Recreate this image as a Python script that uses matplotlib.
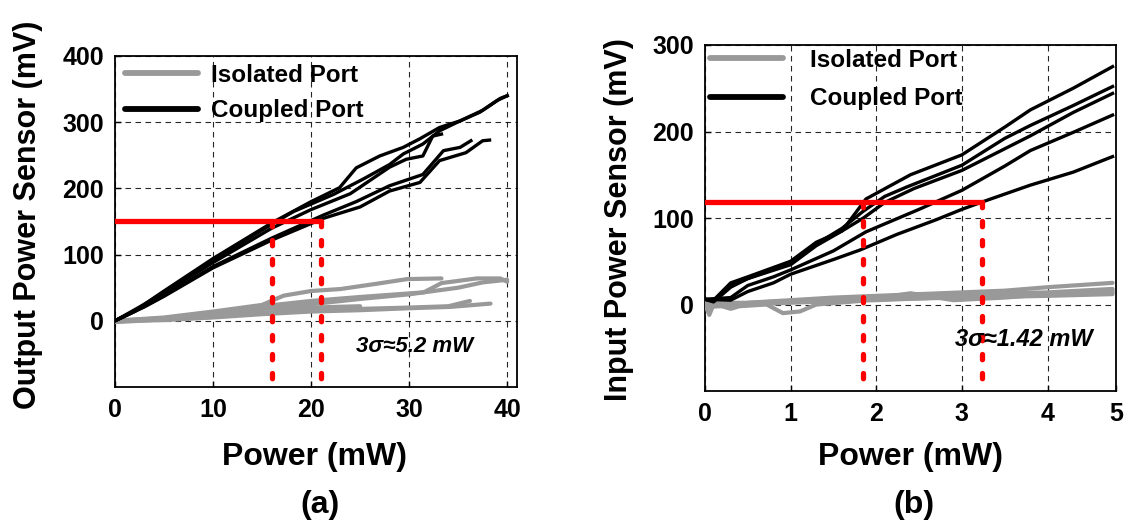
import matplotlib
matplotlib.use("Agg")
import matplotlib.pyplot as plt

plt.rcParams['font.family'] = ['Liberation Sans', 'DejaVu Sans']
plt.rcParams['font.weight'] = 'bold'

# ---------------- Panel (a) data ----------------
a_coupled = [
    ([0, 2, 5, 10, 16, 20, 22.9, 24.6, 27, 29.4, 31.1, 33.1, 35.2, 37.2, 39, 40],
     [0, 15, 45, 94, 148, 180, 201, 231, 249, 262, 275, 292, 302, 315, 333, 340]),
    ([0, 2, 5, 10, 16, 18.2, 22.3, 25.3, 28, 29.4, 31.4, 33.1, 35.2, 37.5, 39.3, 40],
     [0, 14, 44, 92, 146, 165, 191, 214, 236, 252, 267, 287, 302, 318, 336, 340]),
    ([0, 3, 5, 10, 16, 20, 24, 28, 29.7, 31.4, 32.4, 33.3],
     [0, 25, 42, 88, 140, 168, 192, 232, 244, 249, 279, 282]),
    ([0, 3, 5, 10, 16, 21.3, 24.6, 28, 31.4, 33.5, 35.2, 36.3],
     [0, 22, 38, 82, 125, 160, 180, 204, 221, 257, 262, 272]),
    ([0, 3, 5, 10, 16, 21.3, 25, 28, 31.1, 33.1, 35.8, 37.5, 38.2],
     [0, 21, 37, 80, 122, 155, 172, 196, 209, 242, 254, 272, 273]),
]
a_isolated = [
    ([0, 5, 10, 15, 17.2, 20, 23, 26.7, 29.8, 33.3],
     [0, 5, 14, 24, 38, 45, 48, 56, 63, 64]),
    ([0, 5, 10, 15, 20, 25, 31.5, 33.3, 36.9, 39.3, 40],
     [0, 3, 10, 22, 30, 36, 43, 57, 64, 64, 59]),
    ([0, 5, 10, 15, 20, 25, 30, 35, 37.5, 40],
     [-2, 2, 8, 18, 25, 33, 40, 50, 58, 62]),
    ([0, 5, 10, 15, 20, 25, 30, 34, 36.2],
     [0, 2, 6, 12, 16, 18, 20, 22, 30]),
    ([0, 5, 10, 15, 20, 25, 30, 34.2, 38.3],
     [0, 1, 5, 10, 14, 16, 19, 21, 26]),
    ([0, 5, 10, 15, 20, 25],
     [0, 4, 12, 18, 20, 22]),
]
a_level = 150
a_x_low, a_x_high = 16.05, 21.0
a_note = "3σ≈5.2 mW"
a_xticks = [0, 10, 20, 30, 40]
a_yticks = [0, 100, 200, 300, 400]

# ---------------- Panel (b) data ----------------
b_coupled = [
    ([0, 0.1, 0.3, 0.5, 1.0, 1.3, 1.6, 1.88, 2.4, 3.0, 3.5, 3.8, 4.3, 4.76],
     [6, 5, 25, 32, 50, 72, 85, 122, 150, 173, 205, 225, 250, 275]),
    ([0, 0.1, 0.3, 0.5, 1.0, 1.3, 1.6, 1.85, 2.1, 2.36, 3.0, 3.5, 3.8, 4.3, 4.76],
     [6, 4, 22, 30, 48, 70, 88, 108, 125, 136, 161, 192, 207, 230, 252]),
    ([0, 0.1, 0.3, 0.5, 1.0, 1.3, 1.6, 1.85, 2.1, 2.44, 3.0, 3.5, 3.8, 4.3, 4.76],
     [6, 3, 20, 30, 46, 68, 85, 100, 118, 134, 155, 180, 195, 222, 244]),
    ([0, 0.3, 0.5, 0.8, 1.0, 1.5, 1.88, 2.5, 3.0, 3.5, 3.8, 4.3, 4.76],
     [6, 8, 22, 32, 40, 62, 84, 110, 132, 160, 178, 199, 219]),
    ([0, 0.3, 0.5, 0.8, 1.0, 1.5, 1.81, 2.24, 2.7, 3.0, 3.25, 3.8, 4.3, 4.76],
     [6, 5, 15, 25, 35, 52, 63, 81, 98, 110, 119, 138, 153, 171]),
]
b_isolated = [
    ([0, 0.05, 0.1, 0.3, 0.5, 1.0, 1.5, 2.0, 2.5, 3.0, 3.5, 4.0, 4.76],
     [0, -12, 0, -3, 2, 5, 8, 10, 12, 14, 16, 20, 25]),
    ([0, 0.2, 0.3, 0.4, 0.72, 0.91, 1.11, 1.3, 1.8, 2.4, 2.9, 3.5, 4.0, 4.76],
     [0, -2, -5, -2, 0, -10, -8, 0, 4, 13, 5, 8, 12, 14]),
    ([0, 0.5, 1.0, 1.5, 2.0, 2.5, 3.0, 3.5, 4.0, 4.76],
     [-3, 0, 2, 4, 7, 9, 10, 13, 14, 18]),
    ([0, 0.5, 1.0, 2.0, 3.0, 4.0, 4.76],
     [2, 2, 4, 6, 8, 10, 12]),
    ([0, 1, 2, 3, 4, 4.76],
     [0, 3, 5, 9, 12, 16]),
]
b_level = 119
b_x_low, b_x_high = 1.84, 3.24
b_note = "3σ≈1.42 mW"
b_xticks = [0, 1, 2, 3, 4, 4.8]
b_xticklabels = ["0", "1", "2", "3", "4", "5"]
b_yticks = [0, 100, 200, 300]

GRAY = "#999999"
RED = "#ff0000"

fig = plt.figure(figsize=(11.25, 5.25), dpi=100)
ax_a = fig.add_axes([115/1125, 1-387/525, 402/1125, 331/525])
ax_b = fig.add_axes([705/1125, 1-391/525, 411/1125, 346/525])


def draw(ax, coupled, isolated, level, xlo, xhi, ylo):
    for i, (x, y) in enumerate(isolated):
        ax.plot(x, y, color=GRAY, lw=3.0, solid_capstyle='round', solid_joinstyle='round',
                label="Isolated Port" if i == 0 else None, zorder=3)
    for i, (x, y) in enumerate(coupled):
        ax.plot(x, y, color="black", lw=2.4, solid_joinstyle='round',
                label="Coupled Port" if i == 0 else None, zorder=4)
    ax.plot([0, xhi], [level, level], color=RED, lw=3.8, solid_capstyle='round', zorder=5)
    for xv in (xlo, xhi):
        ax.plot([xv, xv], [level, ylo], color=RED, lw=3.8, ls=(0, (1.0, 2.6)),
                dash_capstyle='round', zorder=5)


def style(ax):
    ax.grid(True, color="black", ls=(0, (5, 4)), lw=0.8, alpha=0.85)
    ax.set_axisbelow(True)
    for s in ax.spines.values():
        s.set_linewidth(1.3)
    ax.tick_params(direction='in', length=4, width=1, labelsize=18, pad=8)
    for lab in ax.get_xticklabels() + ax.get_yticklabels():
        lab.set_fontweight('bold')


def legend(ax, anchor, textpad, spacing):
    leg = ax.legend(loc='upper left', bbox_to_anchor=anchor, frameon=False,
                    fontsize=17.5, handlelength=3.0, handletextpad=textpad,
                    labelspacing=spacing, borderaxespad=0, borderpad=0)
    for t in leg.get_texts():
        t.set_fontweight('bold')
    for h in leg.get_lines():
        h.set_linewidth(4.2)
        h.set_solid_capstyle('round')


draw(ax_a, a_coupled, a_isolated, a_level, a_x_low, a_x_high, -100)
ax_a.set_xlim(0, 41)
ax_a.set_ylim(-100, 400)
ax_a.set_xticks(a_xticks)
ax_a.set_yticks(a_yticks)
style(ax_a)
ax_a.text(30.6, -39, a_note, fontsize=16, fontstyle='italic', fontweight='bold',
          ha='center', va='center', zorder=6)
legend(ax_a, (10/402, 1-8/331), 0.55, 0.5)

draw(ax_b, b_coupled, b_isolated, b_level, b_x_low, b_x_high, -100)
ax_b.set_xlim(0, 4.8)
ax_b.set_ylim(-100, 300)
ax_b.set_xticks(b_xticks)
ax_b.set_xticklabels(b_xticklabels)
ax_b.set_yticks(b_yticks)
style(ax_b)
ax_b.text(3.72, -40, b_note, fontsize=17, fontstyle='italic', fontweight='bold',
          ha='center', va='center', zorder=6)
legend(ax_b, (5/411, 1-4/346), 1.1, 0.62)

# axis titles and panel labels
fig.text(314/1125, 1-457/525, "Power (mW)", fontsize=23, fontweight='bold', ha='center', va='center')
fig.text(911/1125, 1-457/525, "Power (mW)", fontsize=23, fontweight='bold', ha='center', va='center')
fig.text(28/1125, 1-215/525, "Output Power Sensor (mV)", fontsize=22, fontweight='bold',
         rotation=90, ha='center', va='center')
fig.text(619/1125, 1-220/525, "Input Power Sensor (mV)", fontsize=22, fontweight='bold',
         rotation=90, ha='center', va='center')
fig.text(320/1125, 1-505/525, "(a)", fontsize=23, fontweight='bold', ha='center', va='center')
fig.text(914/1125, 1-505/525, "(b)", fontsize=23, fontweight='bold', ha='center', va='center')

fig.savefig("out.png", dpi=100)
